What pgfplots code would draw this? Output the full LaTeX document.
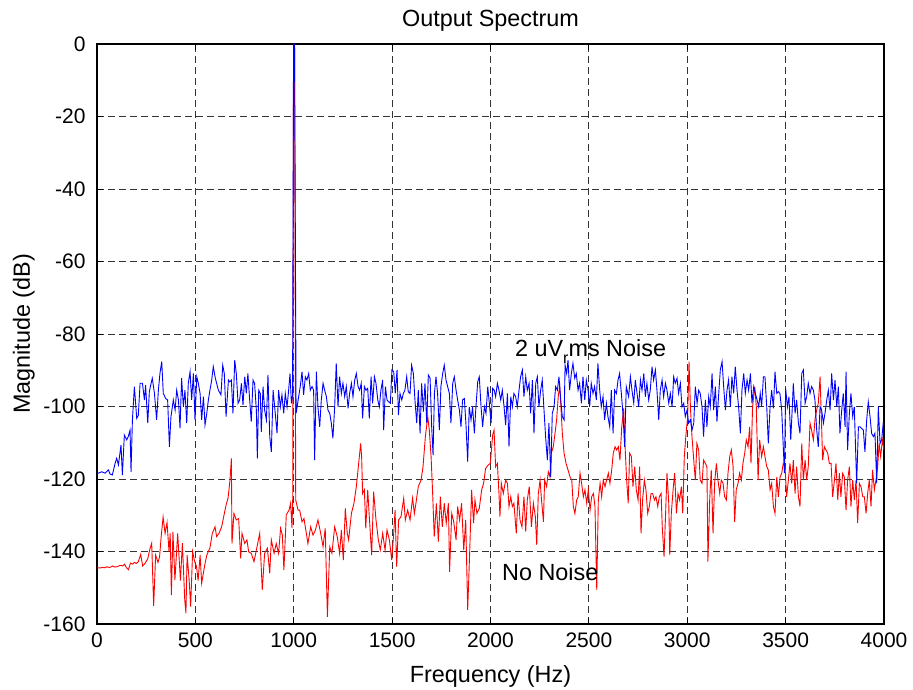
\documentclass[border=0pt]{standalone}
\usepackage{fontspec}
\setmainfont{Liberation Sans}
\usepackage{pgfplots}
\pgfplotsset{compat=1.18}
\begin{document}
\begin{tikzpicture}
\path[use as bounding box] (-97pt,-66pt) rectangle (816pt,624pt);
\begin{axis}[
 at={(0pt,0pt)}, anchor=south west,
 scale only axis, width=787pt, height=580pt,
 xmin=0, xmax=4000, ymin=-160, ymax=0,
 xtick={0,500,1000,1500,2000,2500,3000,3500,4000},
 ytick={-160,-140,-120,-100,-80,-60,-40,-20,0},
 xticklabels={0,500,1000,1500,2000,2500,3000,3500,4000},
 yticklabels={-160,-140,-120,-100,-80,-60,-40,-20,0},
 tick align=inside, major tick length=6pt,
 tick style={black, line width=0.8pt},
 axis line style={black, line width=1.2pt},
 grid=major,
 grid style={black!80, line width=0.8pt, dash pattern=on 7pt off 4pt},
 ticklabel style={font=\fontsize{21}{24}\selectfont},
 xticklabel style={anchor=base, yshift=-24pt},
 yticklabel style={anchor=base east, xshift=-8pt, yshift=-7.4pt},
]
\addplot[red, line width=0.9pt] coordinates {
(0,-144.5)(10,-144.5)(20,-144.5)(30,-144.4)(40,-144.5)(50,-144.2)(60,-144.4)(70,-144.3)(80,-144.0)(90,-144.3)(100,-144.2)(110,-144.0)(120,-143.8)(130,-144.0)(140,-143.5)(150,-144.5)(160,-145.0)(170,-143.2)(180,-143.5)(190,-143.0)(200,-143.3)(210,-142.8)(222,-140.8)(232,-144.0)(245,-143.2)(258,-142.0)(268,-139.5)(278,-137.7)(288,-155.0)(298,-141.0)(310,-143.0)(318,-141.5)(326,-136.0)(336,-130.5)(346,-135.0)(356,-132.0)(366,-140.0)(372,-135.0)(378,-152.0)(386,-134.6)(396,-147.9)(410,-135.0)(424,-148.0)(434,-137.7)(446,-153.4)(452,-157.0)(458,-141.0)(468,-147.5)(476,-155.2)(486,-140.0)(496,-142.7)(506,-144.2)(514,-148.0)(524,-141.0)(532,-148.8)(546,-144.2)(558,-141.0)(574,-139.0)(586,-135.0)(600,-133.2)(608,-135.9)(620,-135.0)(634,-133.1)(642,-130.9)(656,-127.2)(666,-125.3)(676,-120.3)(683,-114.3)(686,-137.8)(696,-129.5)(708,-131.3)(720,-130.9)(730,-141.9)(737,-135.0)(751,-137.8)(762,-136.8)(771,-140.1)(784,-140.5)(798,-142.8)(810,-139.6)(827,-135.0)(840,-150.6)(852,-140.5)(866,-139.1)(878,-146.0)(886,-136.8)(900,-140.5)(911,-137.8)(923,-140.5)(933,-133.6)(942,-135.5)(950,-145.1)(962,-129.9)(976,-128.6)(984,-126.7)(991,-133.5)(995,-125.0)(999,0)(1004,0)(1010,-125.8)(1022,-128.6)
(1030,-128.6)(1042,-131.8)(1052,-130.9)(1064,-135.0)(1072,-137.8)(1086,-133.2)(1098,-135.5)(1110,-134.1)(1123,-131.3)(1137,-135.0)(1149,-138.7)(1160,-133.6)(1171,-158.0)(1183,-138.7)(1194,-140.5)(1208,-133.2)(1221,-135.9)(1233,-140.5)(1242,-134.1)(1252,-142.4)(1262,-128.1)(1272,-135.0)(1279,-136.8)(1293,-129.5)(1306,-126.7)(1318,-122.1)(1330,-115.7)(1340,-110.2)(1345,-113.8)(1350,-124.0)(1359,-123.0)(1366,-133.6)(1376,-123.0)(1384,-130.4)(1396,-141.0)(1406,-123.5)(1418,-131.3)(1430,-136.8)(1440,-139.6)(1452,-135.0)(1464,-139.6)(1474,-134.1)(1486,-136.8)(1498,-142.4)(1508,-135.0)(1515,-128.6)(1523,-144.2)(1533,-131.3)(1545,-130.4)(1559,-125.3)(1567,-131.3)(1579,-128.6)(1591,-131.3)(1604,-125.3)(1613,-129.5)(1621,-126.7)(1633,-122.1)(1647,-120.3)(1657,-116.6)(1669,-108.3)(1681,-102.8)(1689,-106.5)(1698,-113.8)(1706,-124.0)(1714,-135.9)(1725,-126.7)(1735,-137.3)(1745,-124.9)(1755,-133.2)(1765,-126.7)(1775,-132.2)(1786,-126.7)(1792,-145.6)(1803,-129.5)(1813,-131.8)(1825,-136.8)(1833,-127.6)(1843,-131.3)(1853,-126.7)(1864,-139.6)(1874,-131.3)(1884,-156.1)(1894,-140.5)(1904,-123.0)(1914,-132.2)(1921,-125.8)(1931,-129.5)(1943,-128.1)(1955,-123.0)(1965,-121.2)(1975,-117.1)(1989,-116.1)(1999,-115.7)(2011,-107.9)(2018,-106.5)(2026,-116.6)(2035,-115.7)(2043,-124.0)(2048,-130.4)(2055,-121.2)(2065,-124.0)(2077,-120.3)(2086,-121.2)(2094,-127.6)(2103,-124.9)(2111,-127.6)(2119,-126.7)(2131,-135.0)(2140,-124.0)(2150,-131.3)(2160,-133.2)(2170,-124.9)(2179,-134.5)(2187,-125.8)(2197,-122.1)(2208,-133.2)(2218,-126.7)(2228,-130.4)(2235,-138.2)(2243,-124.0)(2252,-120.3)(2258,-124.9)(2269,-131.8)(2275,-120.3)(2285,-122.1)(2294,-118.0)(2302,-119.4)(2309,-112.9)(2319,-111.1)(2328,-107.4)(2336,-103.7)(2345,-96.8)(2352,-94.5)(2358,-100.1)(2365,-107.4)(2374,-112.9)(2384,-115.7)(2394,-117.5)(2404,-119.4)(2413,-120.3)(2421,-127.6)(2429,-129.5)(2438,-125.8)(2446,-124.9)(2455,-118.4)(2463,-121.2)(2472,-124.9)(2480,-123.0)(2489,-126.7)(2497,-123.0)(2506,-128.6)(2514,-124.9)(2523,-124.0)(2531,-127.6)(2540,-150.6)(2548,-125.8)(2557,-121.2)(2565,-124.9)(2573,-120.3)(2582,-122.1)(2590,-120.3)(2599,-118.4)(2607,-121.2)(2616,-117.5)(2624,-112.9)(2633,-111.1)(2641,-112.0)(2650,-111.1)(2658,-114.8)(2667,-105.6)(2677,-100.5)(2684,-111.1)(2692,-120.3)(2700,-126.7)(2707,-112.9)(2716,-113.8)(2724,-122.1)(2733,-116.6)(2741,-123.0)(2750,-125.8)(2758,-116.6)(2765,-135.0)(2773,-125.8)(2782,-120.3)(2790,-123.0)(2799,-129.5)(2807,-127.6)(2816,-124.0)(2824,-124.0)(2833,-125.8)(2841,-124.9)(2850,-127.6)(2858,-124.9)(2867,-124.0)(2873,-133.2)(2882,-141.4)(2890,-129.5)(2897,-118.4)(2906,-126.7)(2911,-141.0)(2919,-129.5)(2928,-123.0)(2936,-118.4)(2945,-129.5)(2953,-124.0)(2961,-125.8)(2970,-122.1)(2977,-129.5)(2985,-113.8)(2994,-107.4)(3002,-102.8)(3009,-87.6)(3016,-100.1)(3024,-108.3)(3033,-114.8)(3041,-120.3)(3049,-110.2)(3058,-112.0)(3066,-120.3)(3075,-121.2)(3083,-114.8)(3092,-115.7)(3100,-116.6)(3105,-142.8)(3114,-125.8)(3122,-117.5)(3131,-135.0)(3139,-121.2)(3148,-115.7)(3156,-120.3)(3165,-124.0)(3173,-120.3)(3182,-121.2)(3190,-124.9)(3199,-125.8)(3207,-118.4)(3216,-113.8)(3224,-112.0)(3233,-116.6)(3241,-131.8)(3249,-123.0)(3258,-121.2)(3266,-118.4)(3275,-120.3)(3283,-115.7)(3292,-112.9)(3300,-109.2)(3309,-111.1)(3317,-105.6)(3324,-115.7)(3332,-100.1)(3343,-94.5)(3351,-100.1)(3360,-120.3)(3368,-109.2)(3378,-113.8)(3387,-111.1)(3395,-113.8)(3404,-116.6)(3412,-117.5)(3421,-123.0)(3429,-121.2)(3438,-127.6)(3446,-129.5)(3455,-119.4)(3463,-124.9)(3472,-119.4)(3480,-118.4)(3488,-115.7)(3497,-116.6)(3505,-124.9)(3514,-120.3)(3522,-115.7)(3531,-121.2)(3539,-114.8)(3548,-124.0)(3556,-116.6)(3565,-124.9)(3573,-127.6)(3582,-110.2)(3590,-120.3)(3599,-114.8)(3607,-120.3)(3615,-116.6)(3624,-104.6)(3632,-106.5)(3641,-109.2)(3649,-103.7)(3658,-100.9)(3666,-99.1)(3675,-91.8)(3683,-105.6)(3688,-114.8)(3697,-111.1)(3705,-112.0)(3714,-112.9)(3722,-115.7)(3731,-115.7)(3739,-124.9)(3748,-120.3)(3756,-115.7)(3765,-125.8)(3773,-118.4)(3781,-124.9)(3790,-118.4)(3798,-119.4)(3807,-128.6)(3815,-120.3)(3824,-116.6)(3832,-127.6)(3841,-120.3)(3849,-125.8)(3858,-120.3)(3866,-132.2)(3875,-121.2)(3883,-122.1)(3892,-124.9)(3900,-124.9)(3909,-129.5)(3917,-124.0)(3925,-120.3)(3934,-127.6)(3942,-117.5)(3951,-123.0)(3959,-120.3)(3968,-116.6)(3975,-110.2)(3983,-113.8)(3992,-109.2)(4000,-112.0)
};
\addplot[blue, line width=0.9pt] coordinates {
(0,-118.4)(7,-118.4)(24,-118.0)(41,-118.4)(58,-117.5)(66,-118.6)(78,-118.9)(92,-115.7)(100,-114.3)(109,-116.1)(122,-110.6)(129,-118.9)(139,-107.9)(151,-109.2)(159,-108.3)(168,-106.5)(173,-118.0)(180,-103.7)(190,-94.5)(202,-103.3)(210,-102.4)(219,-93.6)(231,-93.6)(241,-98.2)(247,-94.1)(258,-104.6)(266,-95.9)(275,-93.6)(281,-92.2)(292,-96.4)(303,-103.7)(312,-95.5)(320,-90.9)(329,-87.6)(337,-96.4)(349,-97.8)(359,-98.2)(368,-111.1)(376,-102.8)(388,-98.2)(397,-101.0)(405,-95.5)(414,-98.2)(422,-106.0)(430,-92.2)(439,-100.1)(447,-95.5)(456,-104.6)(464,-93.6)(473,-90.4)(481,-98.2)(490,-90.9)(498,-103.7)(507,-91.8)(515,-93.6)(524,-96.4)(532,-103.7)(541,-97.3)(549,-105.1)(558,-101.9)(566,-98.2)(574,-95.5)(583,-92.7)(591,-89.0)(600,-91.8)(608,-93.6)(617,-95.5)(630,-96.8)(639,-88.6)(647,-90.9)(656,-102.8)(668,-92.7)(674,-93.2)(683,-92.7)(691,-101.9)(700,-87.2)(708,-90.9)(717,-99.1)(725,-98.2)(734,-93.6)(742,-99.6)(751,-91.8)(759,-96.4)(767,-90.9)(776,-98.2)(784,-104.2)(793,-92.7)(801,-93.6)(810,-101.0)(815,-114.3)(822,-95.5)(830,-96.4)(835,-107.0)(844,-94.5)(852,-101.0)(861,-103.7)(869,-91.3)(878,-108.3)(886,-112.5)(895,-95.5)(903,-100.1)(915,-107.4)(923,-95.5)(932,-100.1)(940,-96.8)(949,-101.9)(957,-96.4)(966,-100.1)(974,-95.5)(981,-90.9)(988,-99.1)(994,-97.0)(999,0)(1004,0)(1012,-101.9)(1025,-97.3)(1033,-94.5)(1042,-90.4)(1050,-96.8)(1059,-91.8)(1067,-92.7)(1076,-90.9)(1084,-95.5)(1093,-94.5)(1101,-95.5)(1106,-114.8)(1115,-90.4)(1123,-100.1)(1132,-105.6)(1140,-98.2)(1149,-93.6)(1157,-95.5)(1166,-97.3)(1174,-101.0)(1183,-101.9)(1191,-104.6)(1199,-108.8)(1208,-100.1)(1216,-88.1)(1225,-100.1)(1233,-91.8)(1242,-96.4)(1250,-93.6)(1259,-97.3)(1267,-94.5)(1276,-100.5)(1284,-96.4)(1293,-93.6)(1301,-97.3)(1310,-92.7)(1318,-90.9)(1327,-94.5)(1335,-95.5)(1343,-93.6)(1350,-103.3)(1359,-94.5)(1367,-95.5)(1376,-95.0)(1384,-103.3)(1393,-91.8)(1401,-99.1)(1410,-91.8)(1418,-93.6)(1427,-98.2)(1435,-100.1)(1443,-95.5)(1452,-92.7)(1457,-106.5)(1466,-94.5)(1474,-98.2)(1482,-98.7)(1491,-99.1)(1499,-89.9)(1508,-90.4)(1516,-96.4)(1525,-89.9)(1532,-102.4)(1540,-96.4)(1549,-98.2)(1557,-96.4)(1565,-95.5)(1574,-91.8)(1582,-95.9)(1591,-96.4)(1599,-88.6)(1608,-90.9)(1616,-98.2)(1625,-104.6)(1633,-95.5)(1642,-107.4)(1650,-93.6)(1659,-101.4)(1667,-93.6)(1676,-104.6)(1684,-91.3)(1693,-92.2)(1701,-105.6)(1708,-113.4)(1715,-96.4)(1723,-91.8)(1731,-96.4)(1740,-106.5)(1748,-94.5)(1757,-90.9)(1765,-88.6)(1774,-92.7)(1782,-94.5)(1791,-96.4)(1799,-104.6)(1808,-93.6)(1816,-91.8)(1825,-95.5)(1833,-98.2)(1842,-101.0)(1850,-105.6)(1858,-98.2)(1867,-97.8)(1875,-104.6)(1884,-115.2)(1892,-100.1)(1901,-103.7)(1909,-100.1)(1918,-107.4)(1926,-100.1)(1935,-93.2)(1943,-91.8)(1952,-100.1)(1960,-105.6)(1969,-100.1)(1977,-101.9)(1986,-94.5)(1994,-99.1)(2003,-104.6)(2011,-95.0)(2019,-95.5)(2026,-97.3)(2035,-93.6)(2043,-95.5)(2052,-98.2)(2060,-95.5)(2069,-100.1)(2077,-105.1)(2086,-96.4)(2094,-111.1)(2103,-97.3)(2111,-100.1)(2119,-96.4)(2128,-97.3)(2136,-100.1)(2145,-95.5)(2153,-91.8)(2162,-89.9)(2170,-97.3)(2179,-91.8)(2187,-95.5)(2196,-93.6)(2204,-101.9)(2213,-92.7)(2221,-107.4)(2230,-93.6)(2238,-91.8)(2246,-100.1)(2255,-95.5)(2263,-92.7)(2272,-101.0)(2280,-108.3)(2289,-114.8)(2297,-104.6)(2306,-119.4)(2314,-101.9)(2323,-100.1)(2331,-94.5)(2340,-95.5)(2348,-91.8)(2357,-98.2)(2365,-102.8)(2374,-103.7)(2379,-88.6)(2387,-90.9)(2394,-87.2)(2402,-95.5)(2411,-90.9)(2419,-88.1)(2428,-92.2)(2436,-90.9)(2445,-95.5)(2453,-93.6)(2462,-99.1)(2470,-91.8)(2479,-98.2)(2487,-92.7)(2496,-95.5)(2504,-100.1)(2512,-93.6)(2521,-96.4)(2529,-94.5)(2538,-98.2)(2546,-88.1)(2555,-95.5)(2563,-100.1)(2572,-97.3)(2580,-103.7)(2589,-99.1)(2597,-102.8)(2606,-105.6)(2614,-95.5)(2623,-107.4)(2631,-95.5)(2640,-96.4)(2648,-92.7)(2656,-90.9)(2665,-96.4)(2673,-101.9)(2682,-111.1)(2690,-94.5)(2702,-97.3)(2711,-91.8)(2719,-95.5)(2728,-99.1)(2736,-92.7)(2745,-96.4)(2753,-100.1)(2762,-92.7)(2770,-95.5)(2779,-90.9)(2787,-97.3)(2795,-93.6)(2804,-98.2)(2812,-95.5)(2821,-89.0)(2829,-92.7)(2838,-89.9)(2846,-95.5)(2855,-103.7)(2863,-95.5)(2872,-92.7)(2880,-97.3)(2889,-93.6)(2897,-95.5)(2906,-99.1)(2914,-96.4)(2923,-100.1)(2931,-91.8)(2939,-93.6)(2948,-92.2)(2956,-96.4)(2965,-93.6)(2973,-100.1)(2982,-99.1)(2990,-102.8)(2999,-101.0)(3007,-104.6)(3016,-103.7)(3024,-106.5)(3033,-104.6)(3041,-94.5)(3050,-99.1)(3058,-95.5)(3066,-96.4)(3075,-100.1)(3083,-108.3)(3092,-98.2)(3100,-105.6)(3109,-97.3)(3117,-100.1)(3126,-90.9)(3134,-101.0)(3143,-94.5)(3151,-104.2)(3160,-96.4)(3168,-89.9)(3177,-87.6)(3185,-94.5)(3194,-101.0)(3202,-95.5)(3210,-92.7)(3219,-100.1)(3227,-91.8)(3236,-96.4)(3244,-89.0)(3253,-95.5)(3261,-100.1)(3270,-107.4)(3278,-95.5)(3287,-90.9)(3295,-96.4)(3304,-92.7)(3312,-95.5)(3321,-90.9)(3329,-99.1)(3338,-94.5)(3346,-96.4)(3355,-98.2)(3363,-100.1)(3371,-96.4)(3378,-100.1)(3387,-91.8)(3395,-91.8)(3404,-100.1)(3412,-110.2)(3421,-100.1)(3429,-95.5)(3438,-100.5)(3446,-90.4)(3455,-96.4)(3463,-95.9)(3471,-96.4)(3480,-101.0)(3488,-111.1)(3494,-118.4)(3500,-95.0)(3509,-100.1)(3517,-97.3)(3526,-109.2)(3534,-100.1)(3539,-93.6)(3548,-101.9)(3556,-98.2)(3565,-104.6)(3573,-107.4)(3582,-90.9)(3590,-89.9)(3599,-99.1)(3607,-97.3)(3615,-93.6)(3624,-96.4)(3632,-94.5)(3641,-95.5)(3649,-98.2)(3658,-106.5)(3666,-111.1)(3675,-100.1)(3683,-101.0)(3692,-104.6)(3700,-101.9)(3709,-98.2)(3717,-95.5)(3726,-101.0)(3734,-90.9)(3743,-98.2)(3751,-92.7)(3760,-100.1)(3768,-94.5)(3776,-107.4)(3785,-101.0)(3793,-96.4)(3802,-105.6)(3807,-90.4)(3815,-112.0)(3824,-101.9)(3832,-96.4)(3841,-102.8)(3849,-100.1)(3861,-121.2)(3870,-105.6)(3878,-105.6)(3886,-106.0)(3895,-106.5)(3903,-112.5)(3912,-103.7)(3920,-98.7)(3929,-102.8)(3937,-107.4)(3946,-108.3)(3954,-107.4)(3963,-121.2)(3971,-100.1)(3980,-110.2)(3988,-109.2)(3996,-104.6)(4000,-105.0)
};
\node[anchor=base west, inner sep=0pt, font=\fontsize{23.4}{26}\selectfont] at (axis cs:2124,-86.1) {2 uV\raisebox{-0.3em}{\fontsize{16}{16}\selectfont r}ms Noise};
\node[anchor=base west, inner sep=0pt, font=\fontsize{23.4}{26}\selectfont] at (axis cs:2058,-148.1) {No Noise};
\end{axis}
\node[anchor=base, inner sep=0pt, font=\fontsize{23.4}{26}\selectfont] at (393.5pt,597pt) {Output Spectrum};
\node[anchor=base, inner sep=0pt, font=\fontsize{23.4}{26}\selectfont] at (393.5pt,-59pt) {Frequency (Hz)};
\node[anchor=base, rotate=90, inner sep=0pt, font=\fontsize{23.4}{26}\selectfont] at (-67pt,290pt) {Magnitude (dB)};
\end{tikzpicture}
\end{document}
